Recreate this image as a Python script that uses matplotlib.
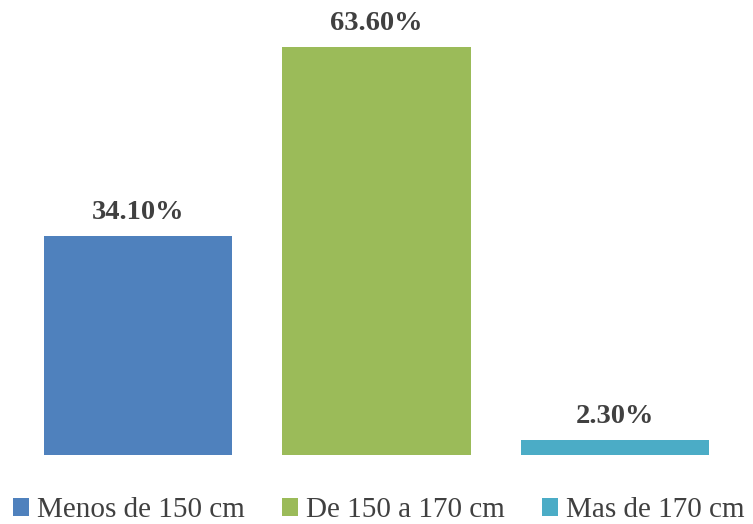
import matplotlib.pyplot as plt
from matplotlib.patches import Patch

# Height groups and their shares (%)
categories = ['Menos de 150 cm', 'De 150 a 170 cm', 'Mas de 170 cm']
shares = [34.1, 63.6, 2.3]
value_labels = ['34.10%', '63.60%', '2.30%']
colors = ['#4f81bd', '#9bbb59', '#4bacc6']

plt.rcParams['font.family'] = ['Liberation Serif', 'DejaVu Serif']

fig = plt.figure(figsize=(7.53, 5.24), dpi=100)
ax = fig.add_axes([0.0, 0.1317, 1.0, 0.8683])

x = list(range(len(categories)))
bars = ax.bar(x, shares, width=0.79, color=colors, zorder=2)

for rect, lab in zip(bars, value_labels):
    ax.annotate(lab, (rect.get_x() + rect.get_width() / 2, rect.get_height()),
                xytext=(0, 8), textcoords='offset points',
                ha='center', va='bottom', fontsize=20.5, fontweight='bold',
                color='#404040')

ax.set_xlim(-0.579, 2.579)
ax.set_ylim(0, 70.93)
ax.axis('off')

handles = [Patch(facecolor=c, edgecolor='none') for c in colors]
fig.legend(handles, categories, loc='center', ncol=3,
           bbox_to_anchor=(0.503, 0.026), frameon=False, fontsize=21,
           handlelength=0.55, handleheight=0.55, handletextpad=0.25,
           columnspacing=1.3, labelcolor='#404040',
           borderpad=0, borderaxespad=0)

fig.savefig('out.png', dpi=100, facecolor='white')
